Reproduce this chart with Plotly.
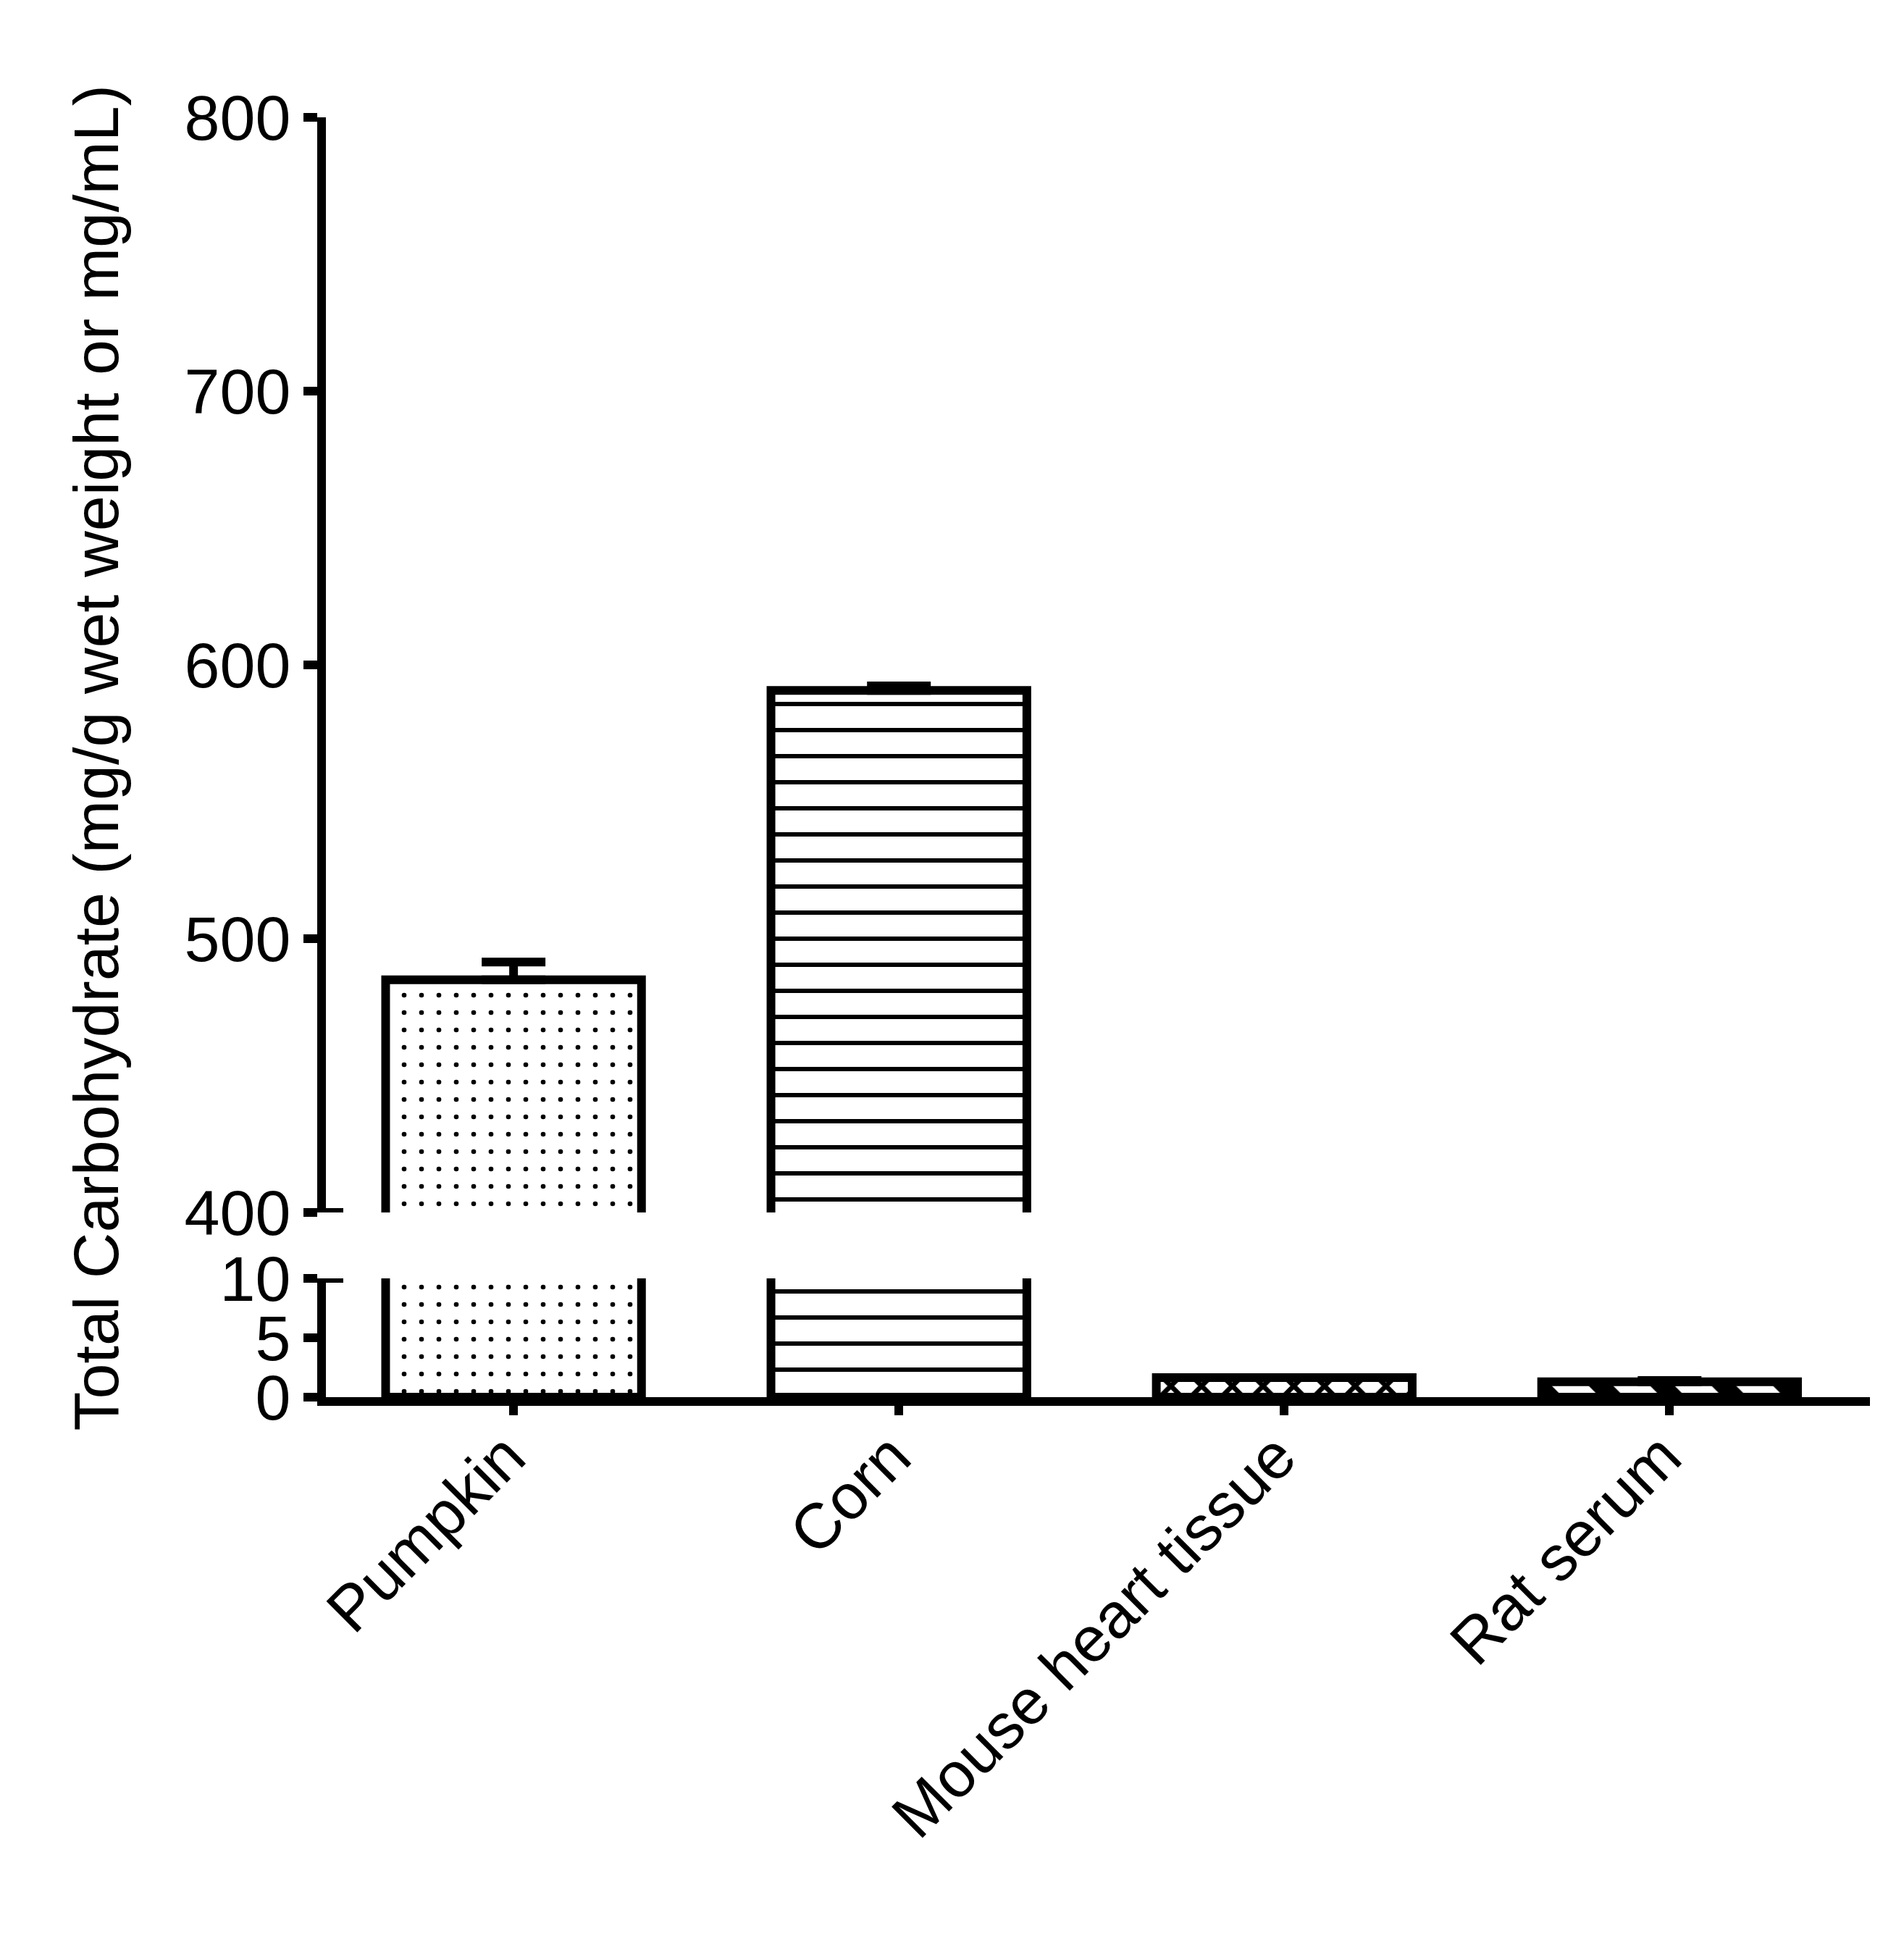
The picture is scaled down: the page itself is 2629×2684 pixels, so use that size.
import plotly.graph_objects as go

# data
categories = ["Pumpkin", "Corn", "Mouse heart tissue", "Rat serum"]
carbohydrate = [485, 590.7, 1.65, 1.3]
sem = [6.5, 1.6, None, 0.1]
patterns = [".", "-", "x", "\\"]
pattern_sizes = [24, 36, 30, 60]
pattern_solidity = [0.06, 0.17, 0.4, 0.4]

lower_ticks = [0, 5, 10]
upper_ticks = [400, 500, 600, 700, 800]
lower_range = [0, 10]
upper_range = [400, 800]

FONT = "Liberation Sans, Arial, sans-serif"
LW = 12


def seg_errors(lo, hi):
    # keep only error bars whose bar top sits inside this axis segment
    return [e if (e is not None and lo <= v <= hi) else None
            for v, e in zip(carbohydrate, sem)]


def bar_trace(yaxis, errs):
    return go.Bar(
        x=categories, y=carbohydrate, yaxis=yaxis, width=0.664,
        marker=dict(
            color="white",
            line=dict(color="black", width=LW),
            pattern=dict(shape=patterns, size=pattern_sizes,
                         solidity=pattern_solidity, fgopacity=1,
                         fgcolor="black", bgcolor="white"),
        ),
        error_y=dict(type="data", symmetric=False, array=errs,
                     arrayminus=[0] * len(errs), color="black",
                     thickness=LW, width=44),
        showlegend=False, hoverinfo="x+y",
    )


fig = go.Figure()
fig.add_trace(bar_trace("y", seg_errors(*lower_range)))
fig.add_trace(bar_trace("y2", seg_errors(*upper_range)))

axis_common = dict(
    showline=True, linecolor="black", linewidth=LW,
    ticks="outside", ticklen=19, tickwidth=LW, tickcolor="black",
    showgrid=False, zeroline=False,
    tickfont=dict(family=FONT, size=88, color="black"),
)

# the page body adds an 8px margin, so the figure is 16px smaller
fig.update_layout(
    width=2613, height=2668,
    margin=dict(l=442, r=39, t=154, b=747),
    paper_bgcolor="white", plot_bgcolor="white",
    xaxis=dict(
        showline=True, linecolor="black", linewidth=LW,
        ticks="outside", ticklen=13, tickwidth=LW, tickcolor="black",
        showgrid=False, zeroline=False, range=[-0.487, 3.52],
        tickangle=-45, anchor="y",
        ticklabelstandoff=-30, ticklabelshift=-10,
        tickfont=dict(family=FONT, size=88, color="black"),
    ),
    yaxis=dict(domain=[0, 0.0928], range=lower_range,
               tickvals=lower_ticks, anchor="x", **axis_common),
    yaxis2=dict(domain=[0.1443, 1], range=upper_range,
                tickvals=upper_ticks, anchor="x", **axis_common),
    annotations=[dict(
        text="Total Carbohydrate (mg/g wet weight or mg/mL)",
        xref="paper", yref="paper", x=-0.1487, y=0.5,
        xanchor="center", yanchor="middle", textangle=-90,
        showarrow=False, font=dict(family=FONT, size=88, color="black"),
    )],
    shapes=[
        # inner half of the ticks at the axis break
        dict(type="line", xref="paper", xsizemode="pixel", xanchor=0,
             x0=-6, x1=24, yref="y2", y0=upper_range[0], y1=upper_range[0],
             line=dict(color="black", width=LW)),
        dict(type="line", xref="paper", xsizemode="pixel", xanchor=0,
             x0=-6, x1=24, yref="y", y0=lower_range[1], y1=lower_range[1],
             line=dict(color="black", width=LW)),
    ],
)

fig.write_html("out.html")
